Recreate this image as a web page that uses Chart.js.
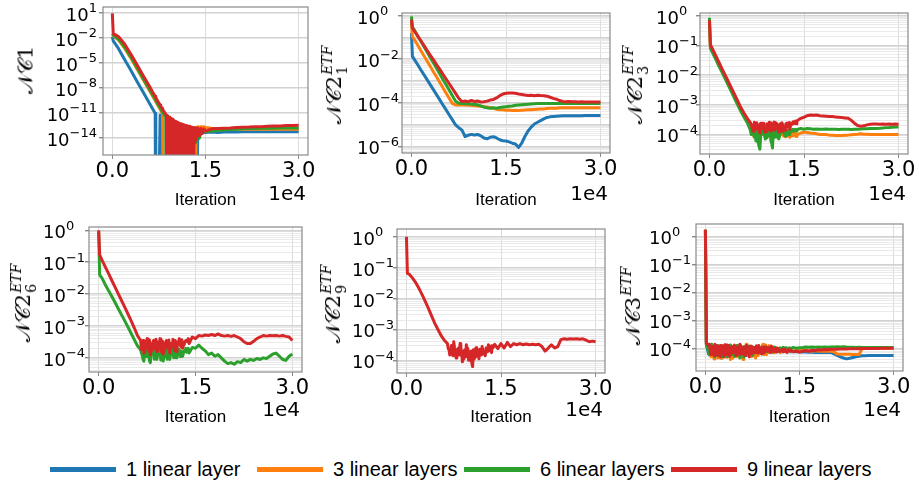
<!DOCTYPE html>
<html>
<head>
<meta charset="utf-8">
<script src="https://cdn.jsdelivr.net/npm/chart.js@4.4.1/dist/chart.umd.min.js"></script>
<style>
  html, body { margin: 0; padding: 0; background: #fff; overflow: hidden; }
  body { width: 919px; height: 484px; position: relative; font-family: 'DejaVu Sans', sans-serif; }
  canvas { position: absolute; }
  .ylab { position: absolute; transform: translate(-50%, -50%) rotate(-90deg); white-space: nowrap;
          font-family: 'DejaVu Serif', serif; font-size: 21px; color: #000; line-height: 1; }
  .st { display: inline-flex; flex-direction: column; vertical-align: middle; font-size: 14px; line-height: 15px; margin-left: 1px; }
  .st i { font-style: italic; }
  .off { position: absolute; font: 20px/20px 'DejaVu Sans', sans-serif; color: #000; }
  .lg { position: absolute; top: 457px; height: 24px; display: flex; align-items: center;
        font: 20px 'Liberation Sans', Arial, sans-serif; color: #000; white-space: nowrap; }
  .lg .sw { width: 66px; height: 5px; margin-right: 10px; }
</style>
</head>
<body>
<script>
// ---- data ----
const legendLabels = ['1 linear layer', '3 linear layers', '6 linear layers', '9 linear layers'];
const seriesColors = ['#1f77b4', '#ff7f0e', '#2ca02c', '#d62728'];
const xTickValues = [0, 15000, 30000];
const xTickLabels = ['0.0', '1.5', '3.0'];
const xOffsetText = '1e4';
const xTitle = 'Iteration';

// NC1 panel
const nc1Iters = [
  0, 150, 1000, 2000, 3000, 4000, 5000, 6000, 6500, 6900,
  7000, 7300, 7700, 7800, 8000, 8100, 8200, 8600, 8700, 8850,
  9000, 9250, 9500, 9750, 10000, 10250, 10500, 10750, 11000, 11250,
  11500, 11750, 12000, 12250, 12500, 12750, 13000, 13250, 13500, 13750,
  14000, 14250, 14500, 14750, 15000, 16000, 17000, 18000, 19000, 20000,
  21000, 22000, 23000, 24000, 25000, 26000, 27000, 28000, 29000, 30000
];
const nc1Layer1 = [
  1.2e-2, 4e-3, 4.7e-4, 2.2e-5, 1.1e-6, 5.1e-8, 2.5e-9, 1.2e-10, 2.6e-11, 8e-12,
  1e-30, 1e-30, 5e-12, 1e-30, 1e-30, 1e-30, 1e-30, 1e-30, 1e-30, 1e-30,
  1e-30, 1e-30, 1e-30, 1e-30, 1e-30, 1e-30, 1e-30, 1e-30, 1e-30, 1e-30,
  1e-30, 1e-30, 1e-30, 1e-30, 1e-30, 1e-30, 1e-30, 1e-30, 1e-30, 2e-14,
  3e-14, 3.5e-14, 4e-14, 4e-14, 4e-14, 4.5e-14, 4e-14, 4.5e-14, 5e-14, 4.5e-14,
  5e-14, 5e-14, 5e-14, 5e-14, 5e-14, 5e-14, 5e-14, 5e-14, 5e-14, 5e-14
];
const nc1Layer3 = [
  2e-2, 1.6e-2, 5e-3, 5e-4, 3.2e-5, 1.6e-6, 8e-8, 4e-9, 9e-10, 2.8e-10,
  2e-10, 8e-11, 2.5e-11, 1.8e-11, 1e-11, 7e-12, 1e-30, 1e-30, 1e-30, 1e-30,
  1e-30, 1e-30, 1e-30, 1e-30, 1e-30, 1e-30, 1e-30, 1e-30, 1e-30, 1e-30,
  1e-30, 1e-30, 1e-30, 1e-30, 1e-30, 1e-30, 1e-30, 1e-30, 1.5e-13, 2e-13,
  1.6e-13, 2e-13, 1.8e-13, 2e-13, 1.6e-13, 1.3e-13, 1.1e-13, 1e-13, 1e-13, 1e-13,
  1e-13, 1e-13, 1e-13, 1e-13, 1e-13, 1e-13, 1e-13, 1e-13, 1e-13, 1e-13
];
const nc1Layer6 = [
  3e-2, 2e-2, 6.3e-3, 7e-4, 4.5e-5, 2.2e-6, 1.1e-7, 5.6e-9, 1.3e-9, 4e-10,
  2.8e-10, 1.1e-10, 3.5e-11, 2.5e-11, 1.4e-11, 1e-11, 8e-12, 2.8e-12, 1e-30, 1e-30,
  1e-30, 1e-30, 1e-30, 1e-30, 1e-30, 1e-30, 1e-30, 1e-30, 1e-30, 1e-30,
  1e-30, 1e-30, 1e-30, 1e-30, 1e-30, 1e-30, 2e-15, 6e-15, 3e-15, 1.5e-14,
  8e-15, 3e-14, 4e-14, 5e-14, 5e-14, 6e-14, 7e-14, 8e-14, 9e-14, 1e-13,
  1.1e-13, 1.2e-13, 1.2e-13, 1.3e-13, 1.3e-13, 1.3e-13, 1.4e-13, 1.4e-13, 1.4e-13, 1.4e-13
];
// the 9-layer run oscillates down to zero, so it has a finer grid of its own
const nc1RedIters = [
  0, 150, 1000, 2000, 3000, 4000, 5000, 6000, 6500, 6900,
  7000, 7300, 7700, 7800, 8000, 8100, 8200, 8600, 8700, 8750,
  8875, 9000, 9125, 9250, 9375, 9500, 9625, 9750, 9875, 10000,
  10125, 10250, 10375, 10500, 10625, 10750, 10875, 11000, 11125, 11250,
  11375, 11500, 11625, 11750, 11875, 12000, 12125, 12250, 12375, 12500,
  12625, 12750, 12875, 13000, 13125, 13250, 13375, 13500, 13750, 14000,
  14250, 14500, 14750, 15000, 16000, 17000, 18000, 19000, 20000, 21000,
  22000, 23000, 24000, 25000, 26000, 27000, 28000, 29000, 30000
];
const nc1Layer9 = [
  8, 3e-2, 1.3e-2, 1.6e-3, 1e-4, 5e-6, 2.5e-7, 1.3e-8, 2.8e-9, 9e-10,
  6.3e-10, 2.5e-10, 8e-11, 5.6e-11, 3.2e-11, 2.2e-11, 1.8e-11, 6.3e-12, 5e-12, 1e-30,
  4.5e-12, 1e-30, 3e-12, 1e-30, 2.2e-12, 1e-30, 1.7e-12, 1e-30, 1.2e-12, 1e-30,
  9e-13, 1e-30, 7.5e-13, 1e-30, 6.3e-13, 1e-30, 5e-13, 1e-30, 4.5e-13, 1e-30,
  3.8e-13, 1e-30, 3.2e-13, 1e-30, 2.8e-13, 1e-30, 2.5e-13, 1e-30, 2.2e-13, 1e-30,
  2e-13, 1e-30, 1.7e-13, 1e-30, 1.6e-13, 2e-15, 1.5e-13, 5e-15, 1.4e-13, 1.5e-14,
  1.2e-13, 3e-14, 1.1e-13, 6e-14, 1.1e-13, 1.2e-13, 1.3e-13, 1.4e-13, 1.6e-13, 1.7e-13,
  1.8e-13, 2e-13, 2e-13, 2.2e-13, 2.4e-13, 2.5e-13, 2.7e-13, 2.8e-13, 3e-13
];
const nc1TickExps = [1, -2, -5, -8, -11, -14];

// NC2 / NC3 panels share this iteration grid
const iters = [
  0, 150, 500, 1000, 1500, 2000, 2500, 3000, 3500, 4000,
  4500, 5000, 5500, 6000, 6500, 7000, 7500, 8000, 8500, 9000,
  9500, 10000, 10500, 11000, 11500, 12000, 12500, 13000, 13500, 14000,
  14500, 15000, 15500, 16000, 16500, 17000, 17500, 18000, 18500, 19000,
  19500, 20000, 20500, 21000, 21500, 22000, 22500, 23000, 23500, 24000,
  24500, 25000, 25500, 26000, 26500, 27000, 27500, 28000, 28500, 29000,
  29500, 30000
];
// extra samples inside the noisy stretches
const noiseItersA = [6750, 7250, 7750, 8250, 8750, 9250, 9750, 10250, 10750, 11250, 11750, 12250, 12750, 13250, 13750];
const noiseItersC = [
  6625, 6875, 7125, 7375, 7625, 7875, 8125, 8375, 8625, 8875,
  9125, 9375, 9625, 9875, 10125, 10375, 10625, 10875, 11125, 11375,
  11625, 11875, 12125, 12375, 12625, 12875, 13125, 13375, 13625, 13875
];
const noiseItersB = [
  750, 1250, 1750, 2250, 2750, 3250, 3750, 4250, 4750, 5250,
  5750, 6250, 6750, 7250, 7750, 8250, 8750, 9250, 9750, 10250,
  10750, 11250, 11750, 12250, 12750, 13250, 13750
];
const noiseItersD = [
  625, 875, 1125, 1375, 1625, 1875, 2125, 2375, 2625, 2875,
  3125, 3375, 3625, 3875, 4125, 4375, 4625, 4875, 5125, 5375,
  5625, 5875, 6125, 6375, 6625, 6875, 7125, 7375, 7625, 7875,
  8125, 8375, 8625, 8875, 9125, 9375, 9625, 9875, 10125, 10375,
  10625, 10875, 11125, 11375, 11625, 11875, 12125, 12375, 12625, 12875,
  13125, 13375, 13625, 13875
];

// NC2_1^ETF
const nc2l1Layer1 = [
  0.16, 0.0135, 9.3e-3, 5.5e-3, 3.2e-3, 1.9e-3, 1.12e-3, 6.6e-4, 3.9e-4, 2.3e-4,
  1.35e-4, 7.9e-5, 4.7e-5, 2.75e-5, 1.62e-5, 9.5e-6, 7.1e-6, 5.6e-6, 2.8e-6, 3.2e-6,
  3.5e-6, 3.3e-6, 3.5e-6, 3e-6, 2.4e-6, 2.2e-6, 2.6e-6, 2.75e-6, 2.4e-6, 2e-6,
  1.8e-6, 1.74e-6, 1.58e-6, 1.38e-6, 1.26e-6, 8.9e-7, 1.41e-6, 2.8e-6, 5e-6, 7.6e-6,
  1.05e-5, 1.26e-5, 1.5e-5, 1.8e-5, 2.1e-5, 2.24e-5, 2.35e-5, 2.4e-5, 2.45e-5, 2.5e-5,
  2.5e-5, 2.5e-5, 2.55e-5, 2.55e-5, 2.55e-5, 2.55e-5, 2.57e-5, 2.57e-5, 2.57e-5, 2.57e-5,
  2.57e-5, 2.57e-5
];
const nc2l1Layer3 = [
  0.46, 0.11, 0.076, 0.044, 0.0245, 0.0141, 8.1e-3, 4.6e-3, 2.6e-3, 1.51e-3,
  8.5e-4, 4.9e-4, 2.75e-4, 1.58e-4, 9.1e-5, 7.9e-5, 8.1e-5, 7.9e-5, 7.8e-5, 7.6e-5,
  7.6e-5, 7.2e-5, 7.1e-5, 6.9e-5, 6.6e-5, 6.3e-5, 6e-5, 5.5e-5, 5e-5, 4.8e-5,
  4.7e-5, 4.5e-5, 4.6e-5, 4.4e-5, 4.5e-5, 4.4e-5, 4.5e-5, 4.6e-5, 4.7e-5, 4.7e-5,
  4.9e-5, 5e-5, 5.1e-5, 5.2e-5, 5.4e-5, 5.5e-5, 5.6e-5, 5.6e-5, 5.8e-5, 5.8e-5,
  5.8e-5, 5.8e-5, 5.8e-5, 5.8e-5, 5.8e-5, 5.8e-5, 5.8e-5, 5.8e-5, 5.8e-5, 5.8e-5,
  5.8e-5, 5.8e-5
];
const nc2l1Layer6 = [
  0.93, 0.3, 0.21, 0.117, 0.066, 0.037, 0.021, 0.0117, 6.6e-3, 3.7e-3,
  2.1e-3, 1.17e-3, 6.6e-4, 3.7e-4, 2.1e-4, 1.17e-4, 9.5e-5, 9.3e-5, 8.9e-5, 9.1e-5,
  8.5e-5, 8.7e-5, 7.9e-5, 7.1e-5, 6.3e-5, 5.8e-5, 5.6e-5, 5.8e-5, 5.6e-5, 6e-5,
  6.3e-5, 6.6e-5, 6.9e-5, 7.1e-5, 7.6e-5, 7.9e-5, 8.1e-5, 8.3e-5, 8.5e-5, 8.7e-5,
  8.9e-5, 9.1e-5, 9.1e-5, 9.1e-5, 9.1e-5, 9.1e-5, 9.1e-5, 9.1e-5, 9.1e-5, 9.1e-5,
  9.1e-5, 9.1e-5, 9.1e-5, 9.1e-5, 9.1e-5, 9.1e-5, 9.1e-5, 9.1e-5, 9.1e-5, 9.1e-5,
  9.1e-5, 9.1e-5
];
const nc2l1Layer9 = [
  0.66, 0.27, 0.19, 0.115, 0.069, 0.042, 0.025, 0.015, 9.3e-3, 5.5e-3,
  3.4e-3, 2e-3, 1.23e-3, 7.4e-4, 4.5e-4, 2.7e-4, 1.6e-4, 1.12e-4, 1.2e-4, 1.12e-4,
  1.26e-4, 1.15e-4, 1.2e-4, 1.07e-4, 1.1e-4, 1.18e-4, 1.32e-4, 1.41e-4, 1.66e-4, 2.1e-4,
  2.5e-4, 2.7e-4, 2.8e-4, 2.8e-4, 2.7e-4, 2.5e-4, 2.4e-4, 2.24e-4, 2.14e-4, 2.2e-4,
  2.1e-4, 2.2e-4, 2.14e-4, 2.1e-4, 2e-4, 1.78e-4, 1.58e-4, 1.45e-4, 1.26e-4, 1.15e-4,
  1.12e-4, 1.15e-4, 1.1e-4, 1.1e-4, 1.08e-4, 1.1e-4, 1.08e-4, 1.07e-4, 1.08e-4, 1.07e-4,
  1.07e-4, 1.07e-4
];
const nc2l1TickExps = [0, -2, -4, -6];

// NC2_3^ETF
const nc2l3Layer3 = [
  0.6, 0.09, 0.063, 0.038, 0.023, 0.0138, 8.3e-3, 5e-3, 3e-3, 1.8e-3,
  1.1e-3, 6.6e-4, 4.2e-4, 2.8e-4, 2e-4, 8.9e-5, 2.2e-4, 1e-4, 2e-4, 7.9e-5,
  1.78e-4, 1e-4, 1.58e-4, 8.9e-5, 1.41e-4, 8.3e-5, 1.12e-4, 8.9e-5, 9.5e-5, 1e-4,
  1.12e-4, 1.2e-4, 1.17e-4, 1.12e-4, 1.1e-4, 1.05e-4, 1e-4, 1e-4, 1e-4, 9.5e-5,
  9.5e-5, 9.3e-5, 9.3e-5, 9.3e-5, 9.5e-5, 9.5e-5, 9.8e-5, 1e-4, 1.02e-4, 1.05e-4,
  1.02e-4, 1.02e-4, 1e-4, 1e-4, 1e-4, 1e-4, 1e-4, 1e-4, 1e-4, 1e-4,
  1e-4, 1e-4
];
const nc2l3Layer3NoiseA = [1.6e-4, 1.2e-4, 1.5e-4, 2.4e-4, 1.1e-4, 1.9e-4, 8.5e-5, 1.7e-4, 1.1e-4, 1.6e-4, 9e-5, 1.3e-4, 8e-5, 1.1e-4, 8.5e-5];
const nc2l3Layer3NoiseC = [
  1.3e-4, 1.8e-4, 9e-5, 2e-4, 1.2e-4, 1.6e-4, 1.9e-4, 1e-4, 1.5e-4, 1.1e-4,
  2e-4, 1.3e-4, 1.7e-4, 9e-5, 1.4e-4, 1.2e-4, 1.8e-4, 1e-4, 1.3e-4, 1.5e-4,
  9.5e-5, 1.2e-4, 1.4e-4, 9e-5, 1.1e-4, 1.3e-4, 9e-5, 1e-4, 1.1e-4, 1.05e-4
];
const nc2l3Layer6 = [
  0.85, 0.08, 0.056, 0.034, 0.02, 0.0123, 7.4e-3, 4.5e-3, 2.7e-3, 1.6e-3,
  9.8e-4, 5.9e-4, 3.8e-4, 2.5e-4, 1.4e-4, 1.12e-4, 7.9e-5, 3.2e-5, 1.4e-4, 7.9e-5,
  1.26e-4, 3.5e-5, 1.12e-4, 7.1e-5, 1.26e-4, 8.9e-5, 1.41e-4, 1.26e-4, 1.41e-4, 1.5e-4,
  1.58e-4, 1.5e-4, 1.58e-4, 1.55e-4, 1.5e-4, 1.52e-4, 1.5e-4, 1.5e-4, 1.52e-4, 1.5e-4,
  1.5e-4, 1.5e-4, 1.48e-4, 1.5e-4, 1.5e-4, 1.5e-4, 1.48e-4, 1.5e-4, 1.5e-4, 1.52e-4,
  1.55e-4, 1.55e-4, 1.58e-4, 1.6e-4, 1.6e-4, 1.62e-4, 1.65e-4, 1.7e-4, 1.72e-4, 1.75e-4,
  1.78e-4, 1.8e-4
];
const nc2l3Layer6NoiseA = [1.2e-4, 1.4e-4, 5e-5, 1.1e-4, 9e-5, 1.3e-4, 6e-5, 1.2e-4, 8e-5, 1.1e-4, 1.3e-4, 9e-5, 1.2e-4, 1.5e-4, 1.3e-4];
const nc2l3Layer6NoiseC = [
  1e-4, 1.3e-4, 8e-5, 6e-5, 1.2e-4, 4e-5, 9e-5, 1.3e-4, 1e-4, 7e-5,
  1.2e-4, 9e-5, 1.4e-4, 5e-5, 1.1e-4, 8e-5, 1.3e-4, 1e-4, 9e-5, 1.2e-4,
  1.4e-4, 1e-4, 1.2e-4, 1.35e-4, 1e-4, 1.3e-4, 1.45e-4, 1.3e-4, 1.5e-4, 1.45e-4
];
const nc2l3Layer9 = [
  0.7, 0.105, 0.074, 0.045, 0.027, 0.016, 0.01, 6e-3, 3.6e-3, 2.2e-3,
  1.32e-3, 7.9e-4, 5.2e-4, 3.5e-4, 2.5e-4, 1.26e-4, 2.5e-4, 1.12e-4, 2.4e-4, 1.26e-4,
  2.6e-4, 1.41e-4, 2.24e-4, 1.2e-4, 2.5e-4, 1.41e-4, 2.24e-4, 2.1e-4, 2.5e-4, 3e-4,
  3.5e-4, 3.8e-4, 4.3e-4, 4.5e-4, 4.4e-4, 4.5e-4, 4.3e-4, 4.2e-4, 4.1e-4, 4e-4,
  4e-4, 3.9e-4, 3.8e-4, 3.7e-4, 3.6e-4, 3.5e-4, 3e-4, 2.4e-4, 2e-4, 1.9e-4,
  1.95e-4, 2.1e-4, 2.2e-4, 2.24e-4, 2.24e-4, 2.2e-4, 2.24e-4, 2.2e-4, 2.24e-4, 2.2e-4,
  2.24e-4, 2.2e-4
];
const nc2l3Layer9NoiseA = [1.8e-4, 1.6e-4, 2.1e-4, 1.7e-4, 1.2e-4, 2.2e-4, 1.3e-4, 2.6e-4, 1.6e-4, 2.3e-4, 1.3e-4, 2.4e-4, 1.5e-4, 2.7e-4, 2.3e-4];
const nc2l3Layer9NoiseC = [
  2.2e-4, 1.4e-4, 2.6e-4, 1.5e-4, 2e-4, 1.3e-4, 2.4e-4, 1.6e-4, 2.1e-4, 1.2e-4,
  2.3e-4, 1.5e-4, 2.5e-4, 1.7e-4, 2e-4, 1.4e-4, 2.4e-4, 1.8e-4, 2.2e-4, 1.3e-4,
  2.1e-4, 1.6e-4, 2.3e-4, 1.8e-4, 2.5e-4, 2e-4, 2.4e-4, 2.3e-4, 2.8e-4, 2.7e-4
];
const nc2l3TickExps = [0, -1, -2, -3, -4];

// NC2_6^ETF
const nc2l6Layer6 = [
  0.9, 0.04, 0.032, 0.02, 0.0132, 8.7e-3, 5.6e-3, 3.6e-3, 2.3e-3, 1.5e-3,
  9.5e-4, 6e-4, 3.8e-4, 2.4e-4, 1.8e-4, 7.9e-5, 2e-4, 7.1e-5, 2.2e-4, 8.9e-5,
  2e-4, 7.9e-5, 1.78e-4, 8.9e-5, 2e-4, 1e-4, 1.78e-4, 1.12e-4, 2e-4, 1.41e-4,
  2.1e-4, 2e-4, 2.5e-4, 2e-4, 1.66e-4, 1.26e-4, 1.41e-4, 1.12e-4, 1.26e-4, 1e-4,
  7.9e-5, 6.6e-5, 7.1e-5, 6.3e-5, 7.6e-5, 7.1e-5, 8.9e-5, 7.9e-5, 8.9e-5, 8.3e-5,
  9.5e-5, 8.9e-5, 1e-4, 9.5e-5, 1.12e-4, 1.32e-4, 1.41e-4, 1.12e-4, 8.9e-5, 8.3e-5,
  1.12e-4, 1.32e-4
];
const nc2l6Layer6NoiseA = [1.2e-4, 1.6e-4, 1.2e-4, 1.5e-4, 1.1e-4, 1.8e-4, 9e-5, 1.5e-4, 1.1e-4, 1.7e-4, 1.2e-4, 1.5e-4, 1.3e-4, 1.6e-4, 1.8e-4];
const nc2l6Layer6NoiseC = [
  1.4e-4, 9e-5, 1.7e-4, 1.1e-4, 1.9e-4, 8e-5, 1.3e-4, 1.6e-4, 9e-5, 2.1e-4,
  1.2e-4, 1.5e-4, 8.5e-5, 1.8e-4, 1.1e-4, 1.4e-4, 9e-5, 1.9e-4, 1.2e-4, 1.6e-4,
  1e-4, 1.7e-4, 1.3e-4, 1.9e-4, 1.1e-4, 1.6e-4, 1.4e-4, 1.8e-4, 1.5e-4, 2e-4
];
const nc2l6Layer9 = [
  1.0, 0.17, 0.117, 0.072, 0.045, 0.0275, 0.017, 0.0105, 6.5e-3, 4e-3,
  2.45e-3, 1.5e-3, 8.9e-4, 5e-4, 3.5e-4, 1.41e-4, 4e-4, 1.26e-4, 3.5e-4, 1.58e-4,
  4e-4, 1.32e-4, 3.5e-4, 1.41e-4, 3.8e-4, 1.58e-4, 4e-4, 2e-4, 3.5e-4, 2.8e-4,
  4.5e-4, 4e-4, 5e-4, 4.8e-4, 5.2e-4, 5e-4, 5.4e-4, 5e-4, 5.6e-4, 5e-4,
  4.8e-4, 5e-4, 4.7e-4, 5e-4, 4.5e-4, 4e-4, 3.2e-4, 2.8e-4, 2.8e-4, 3.3e-4,
  4e-4, 4.5e-4, 5e-4, 4.8e-4, 5e-4, 4.9e-4, 5e-4, 4.8e-4, 5e-4, 4.7e-4,
  4.5e-4, 3.5e-4
];
const nc2l6Layer9NoiseA = [2.2e-4, 3e-4, 1.6e-4, 2.6e-4, 1.9e-4, 3.2e-4, 1.5e-4, 2.4e-4, 2e-4, 2.8e-4, 1.7e-4, 3e-4, 2.2e-4, 2.6e-4, 3.2e-4];
const nc2l6Layer9NoiseC = [
  1.8e-4, 3.5e-4, 1.5e-4, 2.8e-4, 2e-4, 3.6e-4, 1.7e-4, 3e-4, 2.2e-4, 3.8e-4,
  1.6e-4, 2.7e-4, 2e-4, 3.4e-4, 1.8e-4, 3.1e-4, 2.3e-4, 3.6e-4, 1.9e-4, 2.9e-4,
  2.4e-4, 3.5e-4, 2e-4, 3.2e-4, 2.6e-4, 3.7e-4, 2.4e-4, 3.3e-4, 3.5e-4, 4e-4
];
const nc2l6TickExps = [0, -1, -2, -3, -4];

// NC2_9^ETF
const nc2l9Layer9 = [
  1.0, 0.065, 0.06, 0.045, 0.032, 0.021, 0.0132, 7.9e-3, 4.7e-3, 2.7e-3,
  1.58e-3, 1e-3, 6.3e-4, 4.5e-4, 3.5e-4, 1.58e-4, 4e-4, 1.26e-4, 3.5e-4, 1.12e-4,
  3.2e-4, 1e-4, 6.3e-5, 2.5e-4, 1.12e-4, 2.8e-4, 1.41e-4, 3.2e-4, 1.78e-4, 3.3e-4,
  2.4e-4, 3.5e-4, 2.5e-4, 3.8e-4, 2.8e-4, 3.5e-4, 3.2e-4, 3.5e-4, 3.2e-4, 3.4e-4,
  3.2e-4, 3.3e-4, 3.2e-4, 3.3e-4, 2.8e-4, 2e-4, 2.5e-4, 3.2e-4, 2.5e-4, 2.8e-4,
  4.7e-4, 5e-4, 4.8e-4, 5e-4, 4.9e-4, 5e-4, 4.8e-4, 5e-4, 4.5e-4, 4e-4,
  4.2e-4, 4e-4
];
const nc2l9Layer9NoiseA = [2.2e-4, 2.8e-4, 1.8e-4, 2.5e-4, 1.6e-4, 2.2e-4, 1.4e-4, 2e-4, 1.1e-4, 1.8e-4, 2e-4, 1.6e-4, 2.4e-4, 2.1e-4, 2.6e-4];
const nc2l9Layer9NoiseC = [
  2.4e-4, 1.5e-4, 3e-4, 1.4e-4, 2.6e-4, 1.2e-4, 2.3e-4, 1.5e-4, 2.8e-4, 9e-5,
  2e-4, 1.3e-4, 2.4e-4, 1e-4, 1.9e-4, 8e-5, 2.2e-4, 1.3e-4, 2.6e-4, 1.6e-4,
  2.3e-4, 1.5e-4, 2.8e-4, 1.8e-4, 2.5e-4, 1.9e-4, 2.9e-4, 2.2e-4, 3e-4, 2.6e-4
];
const nc2l9TickExps = [0, -1, -2, -3, -4];

// NC3^ETF
const nc3Layer1 = [
  1.7, 1.4e-4, 6.3e-5, 1.12e-4, 5e-5, 1e-4, 4.5e-5, 1.12e-4, 5e-5, 1e-4,
  5e-5, 1e-4, 5.6e-5, 1e-4, 5.6e-5, 8.9e-5, 6.3e-5, 8.9e-5, 6.3e-5, 7.9e-5,
  7.1e-5, 8.9e-5, 7.1e-5, 7.9e-5, 7.6e-5, 7.9e-5, 7.6e-5, 7.9e-5, 7.6e-5, 7.6e-5,
  7.6e-5, 7.4e-5, 7.4e-5, 7.4e-5, 7.2e-5, 7.2e-5, 7.1e-5, 7.1e-5, 7.1e-5, 7.1e-5,
  7.1e-5, 7.1e-5, 6.3e-5, 5.6e-5, 5e-5, 4.5e-5, 4.2e-5, 4.4e-5, 4.7e-5, 5e-5,
  5.2e-5, 5.4e-5, 5.4e-5, 5.5e-5, 5.5e-5, 5.5e-5, 5.5e-5, 5.5e-5, 5.5e-5, 5.5e-5,
  5.5e-5, 5.5e-5
];
const nc3Layer1NoiseB = [
  9e-5, 6e-5, 8e-5, 5.5e-5, 9e-5, 6.3e-5, 8.5e-5, 6e-5, 9e-5, 6.5e-5,
  8e-5, 6e-5, 8.5e-5, 7e-5, 8e-5, 6.5e-5, 8.5e-5, 7e-5, 8e-5, 7.2e-5,
  8.2e-5, 7.4e-5, 8e-5, 7.5e-5, 7.8e-5, 7.6e-5, 7.6e-5
];
const nc3Layer1NoiseD = [
  7e-5, 1.05e-4, 5.5e-5, 9e-5, 4.8e-5, 8e-5, 1.1e-4, 6e-5, 9.5e-5, 5e-5,
  8.5e-5, 6.5e-5, 1e-4, 5.5e-5, 9e-5, 6e-5, 1.05e-4, 5.2e-5, 8e-5, 6.8e-5,
  9.5e-5, 5.8e-5, 8.8e-5, 6.2e-5, 9.2e-5, 6.5e-5, 8.5e-5, 6.8e-5, 9e-5, 6.5e-5,
  8.6e-5, 7e-5, 9.2e-5, 6.8e-5, 8.4e-5, 7.2e-5, 8.8e-5, 7e-5, 8.3e-5, 7.4e-5,
  8.6e-5, 7.2e-5, 8.2e-5, 7.5e-5, 8.4e-5, 7.4e-5, 8e-5, 7.6e-5, 8.2e-5, 7.5e-5,
  7.9e-5, 7.6e-5, 7.8e-5, 7.6e-5
];
const nc3Layer3 = [
  1.7, 1.5e-4, 1e-4, 5e-5, 1.26e-4, 4.5e-5, 1.12e-4, 5e-5, 1.26e-4, 4e-5,
  1.12e-4, 5e-5, 1.26e-4, 4e-5, 1.41e-4, 5e-5, 1.12e-4, 4.5e-5, 1.2e-4, 6.3e-5,
  1.32e-4, 7.1e-5, 1.12e-4, 7.1e-5, 8.9e-5, 7.1e-5, 8.9e-5, 7.6e-5, 8.3e-5, 7.9e-5,
  8.5e-5, 8.3e-5, 8.3e-5, 8.3e-5, 8.1e-5, 8.1e-5, 8e-5, 8e-5, 7.9e-5, 7.9e-5,
  7.8e-5, 7.8e-5, 7.6e-5, 6.3e-5, 6.2e-5, 6.2e-5, 6.1e-5, 6.1e-5, 6e-5, 6e-5,
  6e-5, 1e-4, 1e-4, 1e-4, 1e-4, 1e-4, 1e-4, 1e-4, 1e-4, 1e-4,
  1e-4, 1e-4
];
const nc3Layer3NoiseB = [
  7e-5, 1.1e-4, 6e-5, 1e-4, 4.5e-5, 9e-5, 6e-5, 1.15e-4, 5.5e-5, 9.5e-5,
  6.5e-5, 1.1e-4, 6e-5, 9e-5, 5.5e-5, 1.05e-4, 6.5e-5, 1.4e-4, 6e-5, 1.1e-4,
  8e-5, 1e-4, 8.5e-5, 9.5e-5, 8e-5, 8.5e-5, 8e-5
];
const nc3Layer3NoiseD = [
  1.2e-4, 5e-5, 9e-5, 4.2e-5, 1.1e-4, 5.5e-5, 8e-5, 4.5e-5, 1.15e-4, 6e-5,
  9.5e-5, 4.8e-5, 1.2e-4, 5.2e-5, 8.5e-5, 4.4e-5, 1.05e-4, 6.2e-5, 1.3e-4, 5e-5,
  9e-5, 4.6e-5, 1.15e-4, 5.8e-5, 1.25e-4, 5.4e-5, 1e-4, 5e-5, 1.1e-4, 6e-5,
  1.2e-4, 5.5e-5, 9.5e-5, 6.5e-5, 1.35e-4, 6e-5, 1.05e-4, 7e-5, 1.25e-4, 7.5e-5,
  1.1e-4, 7e-5, 9.5e-5, 7.5e-5, 1e-4, 7.2e-5, 9.2e-5, 7.8e-5, 9e-5, 7.6e-5,
  8.8e-5, 7.8e-5, 8.6e-5, 8e-5
];
const nc3Layer6 = [
  1.7, 1.3e-4, 7.9e-5, 1.41e-4, 5e-5, 1.26e-4, 5.6e-5, 1.26e-4, 5e-5, 1.32e-4,
  6.3e-5, 1.26e-4, 4.5e-5, 1.12e-4, 6.3e-5, 1.2e-4, 5.6e-5, 1.12e-4, 7.1e-5, 1.12e-4,
  7.9e-5, 1.05e-4, 7.6e-5, 1.12e-4, 7.9e-5, 1e-4, 8.3e-5, 1.05e-4, 9.5e-5, 1.07e-4,
  1e-4, 1.05e-4, 1.07e-4, 1.12e-4, 1.1e-4, 1.12e-4, 1.1e-4, 1.12e-4, 1.1e-4, 1.12e-4,
  1.1e-4, 1.12e-4, 1.12e-4, 1.15e-4, 1.12e-4, 1.15e-4, 1.12e-4, 1.1e-4, 1.1e-4, 1.08e-4,
  1.1e-4, 1.08e-4, 1.07e-4, 1.07e-4, 1.07e-4, 1.07e-4, 1.07e-4, 1.07e-4, 1.07e-4, 1.07e-4,
  1.07e-4, 1.07e-4
];
const nc3Layer6NoiseB = [
  1.1e-4, 7e-5, 1.05e-4, 6.5e-5, 1.15e-4, 7e-5, 9.5e-5, 6e-5, 1.1e-4, 7.5e-5,
  1.05e-4, 7e-5, 1.15e-4, 7.5e-5, 9.5e-5, 7e-5, 1e-4, 8e-5, 1.1e-4, 8e-5,
  1.05e-4, 8.5e-5, 1e-4, 9e-5, 1.05e-4, 9.5e-5, 1e-4
];
const nc3Layer6NoiseD = [
  6e-5, 1.3e-4, 7e-5, 1.15e-4, 5.5e-5, 1.25e-4, 6.5e-5, 1.05e-4, 5e-5, 1.2e-4,
  6e-5, 1.1e-4, 5.5e-5, 1.3e-4, 7e-5, 1.15e-4, 5.2e-5, 1.05e-4, 6.8e-5, 1.2e-4,
  6e-5, 1.1e-4, 4.8e-5, 1.15e-4, 6.4e-5, 1.05e-4, 7e-5, 1.1e-4, 6.5e-5, 1.05e-4,
  7.5e-5, 1.15e-4, 7e-5, 1e-4, 7.8e-5, 1.1e-4, 7.5e-5, 1e-4, 8e-5, 1.05e-4,
  8.5e-5, 1.1e-4, 8.2e-5, 1e-4, 8.8e-5, 1.05e-4, 9e-5, 1.08e-4, 9.2e-5, 1.05e-4,
  9.5e-5, 1.05e-4, 1e-4, 1.05e-4
];
const nc3Layer9 = [
  1.7, 1.6e-4, 1.26e-4, 6.3e-5, 1.41e-4, 5.6e-5, 1.26e-4, 5e-5, 1.32e-4, 6.3e-5,
  1.2e-4, 5.6e-5, 1.41e-4, 6.3e-5, 1.26e-4, 5e-5, 1.12e-4, 7.1e-5, 1.26e-4, 6.3e-5,
  1.12e-4, 7.9e-5, 1.2e-4, 7.6e-5, 1e-4, 7.9e-5, 9.5e-5, 7.1e-5, 8.9e-5, 7.6e-5,
  7.9e-5, 7.4e-5, 7.9e-5, 8.3e-5, 7.9e-5, 8.5e-5, 8.3e-5, 8.9e-5, 8.7e-5, 9.1e-5,
  8.9e-5, 9.3e-5, 9.3e-5, 9.3e-5, 9.4e-5, 9.5e-5, 9.5e-5, 9.6e-5, 9.6e-5, 9.7e-5,
  9.7e-5, 9.8e-5, 9.8e-5, 9.8e-5, 9.9e-5, 9.9e-5, 9.9e-5, 1e-4, 1e-4, 1e-4,
  1e-4, 1e-4
];
const nc3Layer9NoiseB = [
  9e-5, 1.1e-4, 7e-5, 1.2e-4, 8e-5, 1.05e-4, 6.5e-5, 1.1e-4, 8e-5, 1.15e-4,
  7.5e-5, 1.05e-4, 7e-5, 1.2e-4, 8e-5, 1e-4, 7e-5, 1.05e-4, 8.5e-5, 9.5e-5,
  8e-5, 1.05e-4, 8e-5, 9e-5, 8.5e-5, 9e-5, 8e-5
];
const nc3Layer9NoiseD = [
  1.4e-4, 6e-5, 1.15e-4, 5.5e-5, 1.3e-4, 7e-5, 1.2e-4, 5e-5, 1.1e-4, 6.5e-5,
  1.35e-4, 6e-5, 1.2e-4, 5.2e-5, 1.05e-4, 7e-5, 1.3e-4, 5.8e-5, 1.15e-4, 6.2e-5,
  1.25e-4, 6.5e-5, 1.1e-4, 5.5e-5, 1.2e-4, 6.8e-5, 1.15e-4, 6.5e-5, 1.1e-4, 7e-5,
  1.2e-4, 6.8e-5, 1.05e-4, 7.5e-5, 1.1e-4, 7e-5, 1e-4, 7.8e-5, 1.08e-4, 7.2e-5,
  1e-4, 7.6e-5, 9.5e-5, 7.5e-5, 9.2e-5, 7.8e-5, 9e-5, 7.5e-5, 9.2e-5, 7.8e-5,
  8.8e-5, 8e-5, 8.6e-5, 7.8e-5
];
const nc3TickExps = [0, -1, -2, -3, -4];

// ---- layout ----
const AX_W = 96, PAD_T = 14, PAD_R = 24;
const titleRowY = [201, 418];
const offsetRowTop = [183, 399];

function S(layer, x, y, extra) { return { layer, x, y, extra: extra || [] }; }

const panels = [
  { series: [S(0, nc1Iters, nc1Layer1), S(1, nc1Iters, nc1Layer3), S(2, nc1Iters, nc1Layer6), S(3, nc1RedIters, nc1Layer9)],
    exps: nc1TickExps, minor: false, yMin: 8e-17, yMax: 47, leftAlign: 0,
    box: { l: 103, t: 7, r: 308, b: 155 }, row: 0,
    label: { num: '1', sup: '', sub: '' }, lab: [26, 70] },
  { series: [S(0, iters, nc2l1Layer1), S(1, iters, nc2l1Layer3), S(2, iters, nc2l1Layer6), S(3, iters, nc2l1Layer9)],
    exps: nc2l1TickExps, minor: true, yMin: 4.9e-7, yMax: 1.32, leftAlign: 45,
    box: { l: 402, t: 13, r: 610, b: 153 }, row: 0,
    label: { num: '2', sup: 'ETF', sub: '1' }, lab: [335, 85] },
  { series: [S(1, iters, nc2l3Layer3, [[noiseItersA, nc2l3Layer3NoiseA], [noiseItersC, nc2l3Layer3NoiseC]]),
             S(2, iters, nc2l3Layer6, [[noiseItersA, nc2l3Layer6NoiseA], [noiseItersC, nc2l3Layer6NoiseC]]),
             S(3, iters, nc2l3Layer9, [[noiseItersA, nc2l3Layer9NoiseA], [noiseItersC, nc2l3Layer9NoiseC]])],
    exps: nc2l3TickExps, minor: true, yMin: 2.2e-5, yMax: 1.23, leftAlign: 44,
    box: { l: 700, t: 13, r: 908, b: 154 }, row: 0,
    label: { num: '2', sup: 'ETF', sub: '3' }, lab: [636, 85] },
  { series: [S(2, iters, nc2l6Layer6, [[noiseItersA, nc2l6Layer6NoiseA], [noiseItersC, nc2l6Layer6NoiseC]]),
             S(3, iters, nc2l6Layer9, [[noiseItersA, nc2l6Layer9NoiseA], [noiseItersC, nc2l6Layer9NoiseC]])],
    exps: nc2l6TickExps, minor: true, yMin: 3.6e-5, yMax: 1.26, leftAlign: 46,
    box: { l: 89, t: 227, r: 302, b: 372 }, row: 1,
    label: { num: '2', sup: 'ETF', sub: '6' }, lab: [24, 303] },
  { series: [S(3, iters, nc2l9Layer9, [[noiseItersA, nc2l9Layer9NoiseA], [noiseItersC, nc2l9Layer9NoiseC]])],
    exps: nc2l9TickExps, minor: true, yMin: 3.9e-5, yMax: 1.78, leftAlign: 45,
    box: { l: 397, t: 229, r: 605, b: 373 }, row: 1,
    label: { num: '2', sup: 'ETF', sub: '9' }, lab: [334, 304] },
  { series: [S(0, iters, nc3Layer1, [[noiseItersB, nc3Layer1NoiseB], [noiseItersD, nc3Layer1NoiseD]]),
             S(1, iters, nc3Layer3, [[noiseItersB, nc3Layer3NoiseB], [noiseItersD, nc3Layer3NoiseD]]),
             S(2, iters, nc3Layer6, [[noiseItersB, nc3Layer6NoiseB], [noiseItersD, nc3Layer6NoiseD]]),
             S(3, iters, nc3Layer9, [[noiseItersB, nc3Layer9NoiseB], [noiseItersD, nc3Layer9NoiseD]])],
    exps: nc3TickExps, minor: true, yMin: 1.55e-5, yMax: 2.75, leftAlign: 47,
    box: { l: 696, t: 224, r: 903, b: 371 }, row: 1,
    label: { num: '3', sup: 'ETF', sub: '' }, lab: [634, 306] }
];

function decadeOf(v) {
  const l = Math.log10(v);
  const r = Math.round(l);
  return Math.abs(l - r) < 1e-6 ? r : null;
}

function toPoints(s) {
  const pts = s.x.map((x, i) => ({ x, y: s.y[i] }));
  s.extra.forEach(([xs, ys]) => xs.forEach((x, i) => pts.push({ x, y: ys[i] })));
  return pts.sort((a, b) => a.x - b.x);
}

function yTickValues(p) {
  if (!p.minor) return p.exps.map(e => Math.pow(10, e));
  const out = [];
  const k0 = Math.floor(Math.log10(p.yMin)), k1 = Math.ceil(Math.log10(p.yMax));
  for (let k = k0; k <= k1; k++) {
    for (let m = 1; m <= 9; m++) {
      const v = m * Math.pow(10, k);
      if (v >= p.yMin && v <= p.yMax) out.push(v);
    }
  }
  return out;
}

const framePlugin = {
  id: 'frame',
  afterDatasetsDraw(chart) {
    const { ctx, chartArea: a } = chart;
    ctx.save();
    ctx.strokeStyle = '#8a8a8a';
    ctx.lineWidth = 1.2;
    ctx.strokeRect(a.left, a.top, a.right - a.left, a.bottom - a.top);
    ctx.restore();
  }
};

// "10" with a raised exponent, like matplotlib's log tick labels
function powLabelPlugin(p) {
  return {
    id: 'powLabels',
    afterDraw(chart) {
      const { ctx, chartArea: a } = chart;
      const ys = chart.scales.y;
      const base = '18px "DejaVu Sans"', small = '13px "DejaVu Sans"';
      ctx.save();
      ctx.fillStyle = '#000';
      ctx.textAlign = 'left';
      ctx.textBaseline = 'alphabetic';
      ctx.font = base;
      const w10 = ctx.measureText('10').width;
      p.exps.forEach(e => {
        const sup = String(e).replace('-', '\u2212');
        ctx.font = small;
        const ws = ctx.measureText(sup).width;
        const y = ys.getPixelForValue(Math.pow(10, e)) + 8;
        const x0 = p.leftAlign ? a.left - p.leftAlign : a.left - 6 - w10 - ws;
        ctx.font = base;
        ctx.fillText('10', x0, y);
        ctx.font = small;
        ctx.fillText(sup, x0 + w10, y - 8.5);
      });
      ctx.restore();
    }
  };
}

function buildPanel(p) {
  const b = p.box;
  const xh = titleRowY[p.row] - b.b + 10;
  const w = b.r - b.l + AX_W + PAD_R;
  const h = b.b - b.t + PAD_T + xh;
  const cv = document.createElement('canvas');
  cv.width = w; cv.height = h;
  cv.style.left = (b.l - AX_W) + 'px';
  cv.style.top = (b.t - PAD_T) + 'px';
  cv.style.width = w + 'px';
  cv.style.height = h + 'px';
  document.body.appendChild(cv);

  const yVals = yTickValues(p);

  new Chart(cv, {
    type: 'line',
    data: {
      datasets: p.series.map(s => ({
        data: toPoints(s),
        borderColor: seriesColors[s.layer],
        borderWidth: 3,
        borderJoinStyle: 'round',
        pointRadius: 0,
        tension: 0,
        fill: false,
        order: 3 - s.layer
      }))
    },
    options: {
      responsive: false,
      animation: false,
      devicePixelRatio: 1,
      events: [],
      layout: { padding: { left: 0, top: PAD_T, right: PAD_R, bottom: 0 } },
      plugins: { legend: { display: false }, tooltip: { enabled: false } },
      scales: {
        x: {
          type: 'linear', min: -1500, max: 31500, bounds: 'data',
          afterBuildTicks: s => { s.ticks = xTickValues.map(v => ({ value: v })); },
          afterFit: s => { s.height = xh; s.paddingLeft = 0; s.paddingRight = 0; },
          ticks: {
            autoSkip: false, maxRotation: 0, padding: 0, color: '#000',
            font: { family: 'DejaVu Sans', size: 21 },
            callback: v => xTickLabels[xTickValues.indexOf(v)]
          },
          grid: { color: '#dcdcdc', lineWidth: 1, tickLength: 4, tickColor: '#8a8a8a' },
          border: { display: false },
          title: { display: true, text: xTitle, color: '#000', padding: 0,
                   font: { family: 'Liberation Sans', size: 17 } }
        },
        y: {
          type: 'logarithmic', min: p.yMin, max: p.yMax, bounds: 'data',
          afterBuildTicks: s => { s.ticks = yVals.map(v => ({ value: v })); },
          afterFit: s => { s.width = AX_W; s.paddingTop = 0; s.paddingBottom = 0; },
          ticks: { autoSkip: false, padding: 2, callback: () => '' },
          grid: {
            color: c => decadeOf(c.tick.value) !== null ? '#d2d2d2' : '#e4e4e4',
            lineWidth: c => decadeOf(c.tick.value) !== null ? 1.4 : 0.8,
            tickLength: 4,
            tickColor: c => {
              const d = decadeOf(c.tick.value);
              return d !== null && p.exps.includes(d) ? '#8a8a8a' : 'rgba(0,0,0,0)';
            }
          },
          border: { display: false }
        }
      }
    },
    plugins: [framePlugin, powLabelPlugin(p)]
  });

  // offset text
  const off = document.createElement('div');
  off.className = 'off';
  off.textContent = xOffsetText;
  off.style.right = (919 - (b.r - 2)) + 'px';
  off.style.top = offsetRowTop[p.row] + 'px';
  document.body.appendChild(off);

  // y axis title
  const yl = document.createElement('div');
  yl.className = 'ylab';
  yl.style.left = p.lab[0] + 'px';
  yl.style.top = p.lab[1] + 'px';
  let html = '<span>\uD835\uDCA9\uD835\uDC9E</span>' + p.label.num;
  if (p.label.sup || p.label.sub) {
    html += '<span class="st"><i>' + (p.label.sup || '&nbsp;') + '</i><span>' + (p.label.sub || '&nbsp;') + '</span></span>';
  }
  yl.innerHTML = html;
  document.body.appendChild(yl);
}

panels.forEach(buildPanel);

// shared legend
const legendLeft = [50, 257, 464, 671];
legendLabels.forEach((lab, i) => {
  const it = document.createElement('div');
  it.className = 'lg';
  it.style.left = legendLeft[i] + 'px';
  const sw = document.createElement('span');
  sw.className = 'sw';
  sw.style.background = seriesColors[i];
  const tx = document.createElement('span');
  tx.textContent = lab;
  it.appendChild(sw);
  it.appendChild(tx);
  document.body.appendChild(it);
});
</script>
</body>
</html>
